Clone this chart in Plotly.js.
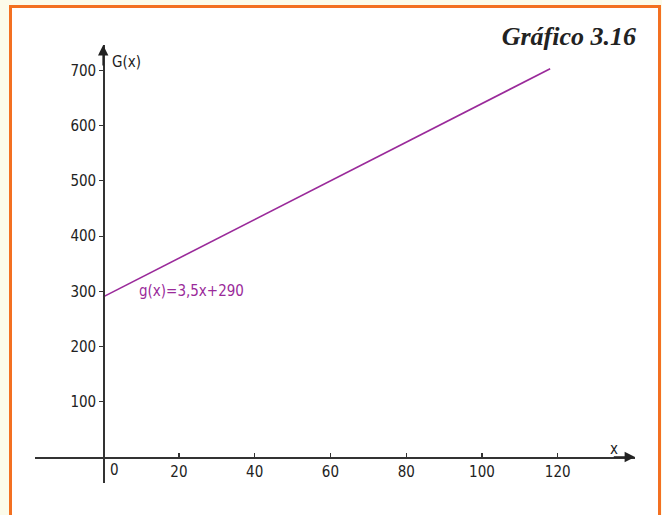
<!DOCTYPE html>
<html>
<head>
<meta charset="utf-8">
<script src="https://cdn.plot.ly/plotly-3.0.1.min.js"></script>
<style>
  html, body { margin:0; padding:0; background:#fcfbea; width:662px; height:515px; overflow:hidden; }
  #frame { position:absolute; left:9px; top:5px; width:646px; height:520px; background:#ffffff;
           border:3px solid #f37021; box-sizing:content-box; }
  #chart { position:absolute; left:0; top:0; width:662px; height:515px; }
</style>
</head>
<body>
<div id="frame"></div>
<div id="chart"></div>
<script>
// Data
const lineX = [0, 118];
const lineY = [290, 703];
const lineLabel = 'g(x)=3,5x+290';
const xTicks = [20, 40, 60, 80, 100, 120];
const yTicks = [100, 200, 300, 400, 500, 600, 700];
const xTickText = ['20', '40', '60', '80', '100', '120'];
const yTickText = ['100', '200', '300', '400', '500', '600', '700'];
const chartTitle = '<b><i>Gráfico 3.16</i></b>';
const yAxisName = 'G(x)';
const xAxisName = 'x';

const xRange = [-18, 140.4];
const yRange = [-47, 746];
const axisColor = '#333333';
const purple = '#9a2a9a';
const tickFont = {family: '"Liberation Sans Narrow", "DejaVu Sans Condensed", Roboto, sans-serif', size: 15, color: '#222'};

const xZeroPos = (0 - xRange[0]) / (xRange[1] - xRange[0]);
const yZeroPos = (0 - yRange[0]) / (yRange[1] - yRange[0]);

const traces = [{
  x: lineX, y: lineY, type: 'scatter', mode: 'lines',
  line: {color: purple, width: 1.6}, hoverinfo: 'skip', showlegend: false
}];

const layout = {
  width: 662, height: 515,
  margin: {l: 35, r: 27, t: 45, b: 32},
  paper_bgcolor: 'rgba(0,0,0,0)', plot_bgcolor: 'rgba(0,0,0,0)',
  showlegend: false,
  title: {
    text: chartTitle, xref: 'container', yref: 'container',
    x: 636/662, xanchor: 'right', y: 1 - 36/515, yanchor: 'middle',
    font: {family: '"Liberation Serif", "DejaVu Serif", serif', size: 26, color: '#222'}
  },
  xaxis: {
    range: xRange, anchor: 'free', position: yZeroPos, side: 'bottom',
    showgrid: false, zeroline: false, showline: true, linecolor: axisColor, linewidth: 1.6,
    ticks: 'inside', ticklen: 4, tickwidth: 1.2, tickcolor: axisColor,
    tickvals: xTicks, ticktext: xTickText, tickfont: tickFont, fixedrange: true
  },
  yaxis: {
    range: yRange, anchor: 'free', position: xZeroPos, side: 'left',
    showgrid: false, zeroline: false, showline: true, linecolor: axisColor, linewidth: 1.6,
    ticks: 'outside', ticklen: 4, tickwidth: 1.2, tickcolor: axisColor,
    tickvals: yTicks, ticktext: yTickText, tickfont: tickFont, fixedrange: true
  },
  annotations: [
    // arrowheads at axis ends
    {x: xRange[1], y: 0, ax: xRange[1] - 6, ay: 0, xref: 'x', yref: 'y', axref: 'x', ayref: 'y',
     showarrow: true, arrowhead: 2, arrowsize: 1.3, arrowwidth: 1.6, arrowcolor: '#222', text: ''},
    {x: 0, y: yRange[1], ax: 0, ay: yRange[1] - 40, xref: 'x', yref: 'y', axref: 'x', ayref: 'y',
     showarrow: true, arrowhead: 2, arrowsize: 1.3, arrowwidth: 1.6, arrowcolor: '#222', text: ''},
    {x: 1.3, y: 0, xref: 'x', yref: 'y', text: '0', showarrow: false, xanchor: 'left', yanchor: 'top',
     yshift: -2, font: tickFont},
    {x: 1.8, y: 715, xref: 'x', yref: 'y', text: yAxisName, showarrow: false, xanchor: 'left', yanchor: 'middle',
     font: tickFont},
    {x: 134.8, y: 15, xref: 'x', yref: 'y', text: xAxisName, showarrow: false, xanchor: 'center', yanchor: 'middle',
     font: tickFont},
    {x: 9, y: 300, xref: 'x', yref: 'y', text: lineLabel, showarrow: false, xanchor: 'left', yanchor: 'middle',
     font: {family: tickFont.family, size: 15, color: purple}}
  ]
};

Plotly.newPlot('chart', traces, layout, {displayModeBar: false, staticPlot: true});
</script>
</body>
</html>
